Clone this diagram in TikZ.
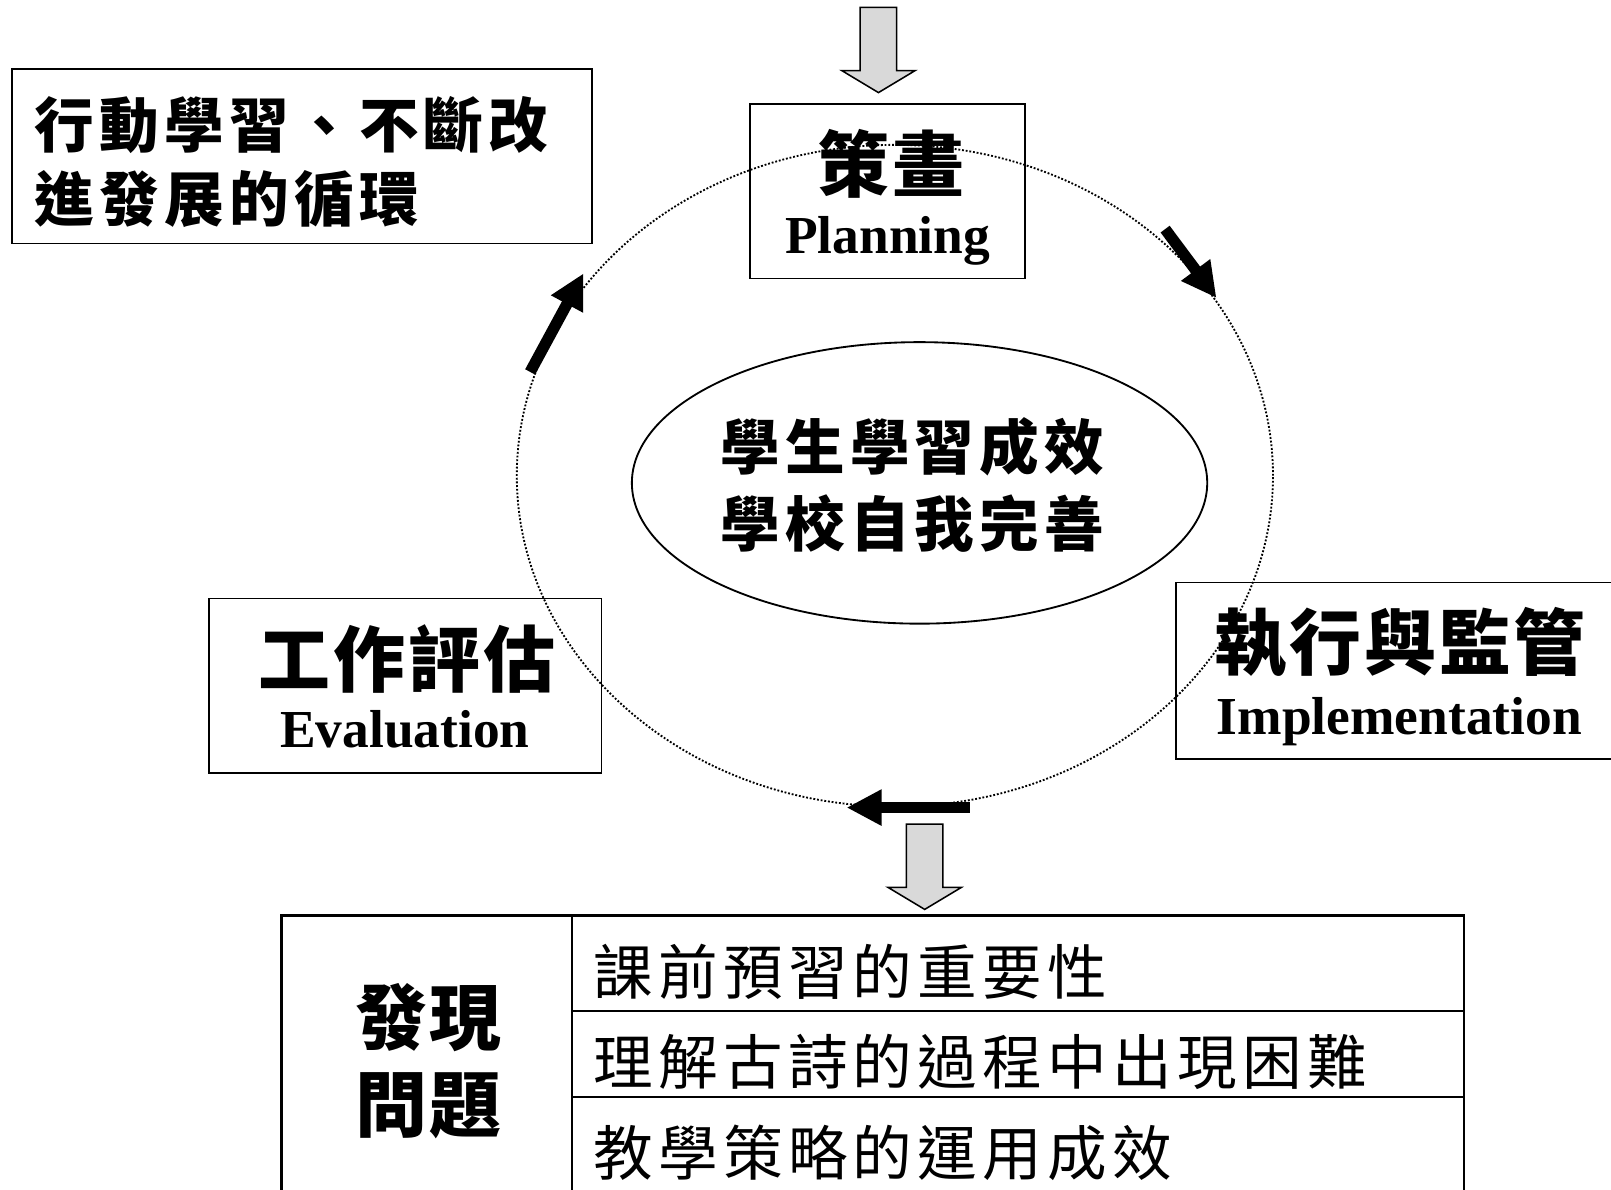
\documentclass[tikz,border=0pt]{standalone}
\usepackage{fontspec}
\setmainfont{Liberation Serif}
\newfontfamily\cjk{Noto Sans CJK TC}[LetterSpace=9]
\newfontfamily\cjkbig{Noto Sans CJK TC}[LetterSpace=4]
\usetikzlibrary{arrows.meta,shapes.geometric,shapes.arrows}
\definecolor{feedgray}{RGB}{217,217,217}
\begin{document}
\begin{tikzpicture}[x=0.5pt, y=-0.5pt,
			box/.style = {draw, line width=0.9pt, inner sep=0},
			heading/.style = {inner sep=0, font=\cjkbig\bfseries\fontsize{35}{40}\selectfont},
			eng/.style = {inner sep=0, anchor=base, font=\bfseries\fontsize{26}{30}\selectfont},
			body/.style = {inner sep=0, anchor=west, font=\cjk\bfseries\fontsize{29}{36}\selectfont},
			entry/.style = {inner sep=0, anchor=west, font=\cjk\fontsize{29}{36}\selectfont},
			feed/.style = {single arrow, draw, fill=feedgray, line width=0.75pt, rotate=-90, anchor=tip,
				inner xsep=0, inner ysep=8.5pt, single arrow head extend=9pt, single arrow tip angle=118, minimum height=41.5pt},
			turn/.style = {line width=5.5pt, -{Triangle[length=17pt, width=16.5pt]}}]
			\useasboundingbox (0,0) rectangle (1568,1158);
			% the cycle and its centre
			\node[ellipse, draw, line width=0.9pt, dash pattern=on 0.9pt off 0.9pt, minimum width=368pt, minimum height=322pt] (loop) at (871,463) {};
			\node[ellipse, draw, line width=0.9pt, minimum width=280pt, minimum height=137pt] (aim) at (895,470) {};
			\node[body, anchor=center] (aimA) at (888,435) {學生學習成效};
			\node[body, anchor=center] (aimB) at (888,510) {學校自我完善};
			% stages
			\node[box, minimum width=282pt, minimum height=85pt] (goal) at (294,152) {};
			\node[body] (goalA) at (33,122) {行動學習、不斷改};
			\node[body] (goalB) at (33,194) {進發展的循環};
			\node[box, minimum width=134pt, minimum height=85pt] (plan) at (864,186) {};
			\node[heading] (planZh) at (867,159) {策畫};
			\node[eng] (planEn) at (864,247) {Planning};
			\node[box, minimum width=217pt, minimum height=86pt] (act) at (1362,653) {};
			\node[heading] (actZh) at (1363,625) {執行與監管};
			\node[eng] (actEn) at (1362,715) {Implementation};
			\node[box, minimum width=191pt, minimum height=85pt] (review) at (394.5,667.5) {};
			\node[heading] (reviewZh) at (396,641) {工作評估};
			\node[eng] (reviewEn) at (394,728) {Evaluation};
			% arrows round the cycle
			\coordinate (c1) at (1134,223);
			\coordinate (c2) at (1184,290);
			\coordinate (c3) at (944,786);
			\coordinate (c4) at (824,786);
			\coordinate (c5) at (516,362);
			\coordinate (c6) at (568,266);
			\draw[turn] (c1) -- (c2);
			\draw[turn] (c3) -- (c4);
			\draw[turn] (c5) -- (c6);
			\node[feed] (inflow) at (855,91) {};
			\node[feed] (outflow) at (900,886) {};
			% findings
			\node[box, line width=1.1pt, minimum width=141.5pt, minimum height=144.5pt] (issue) at (415.5,1035.5) {};
			\node[box, line width=1.1pt, minimum width=434pt, minimum height=46.5pt] (row1) at (991,937.5) {};
			\node[box, line width=1.1pt, minimum width=434pt, minimum height=42pt] (row2) at (991,1026) {};
			\node[box, line width=1.1pt, minimum width=434pt, minimum height=56pt] (row3) at (991,1124) {};
			\node[heading] (issueA) at (417,990) {發現};
			\node[heading] (issueB) at (417,1076) {問題};
			\node[entry] (item1) at (577,945.5) {課前預習的重要性};
			\node[entry] (item2) at (577,1034) {理解古詩的過程中出現困難};
			\node[entry] (item3) at (577,1122) {教學策略的運用成效};
		\end{tikzpicture}
\end{document}
